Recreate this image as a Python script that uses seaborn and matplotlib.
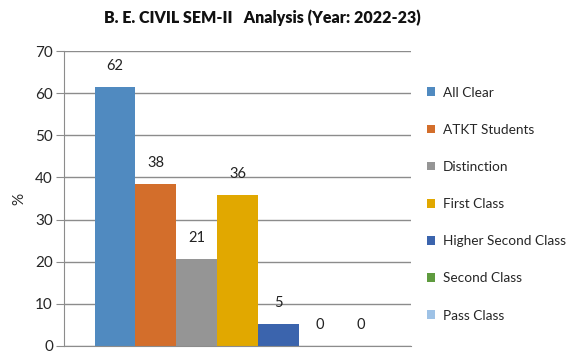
import pandas as pd
import matplotlib
matplotlib.use('Agg')
import matplotlib.pyplot as plt
import seaborn as sns

# Datos
categoria = ['SEM-II']
series = ['All Clear', 'ATKT Students', 'Distinction', 'First Class',
          'Higher Second Class', 'Second Class', 'Pass Class']
valores = [61.6, 38.4, 20.6, 35.9, 5.3, 0, 0]
colores = ['#508AC0', '#D36E2B', '#959595', '#E1A800',
           '#3B64AD', '#5F9B3F', '#9EC2E6']

df = pd.DataFrame({'cat': categoria * len(series), 'serie': series, 'valor': valores})

sns.set_style('white')
plt.rcParams['font.family'] = ['Lato', 'DejaVu Sans']

fig = plt.figure(figsize=(5.72, 3.6), dpi=100)
ax = fig.add_axes([0.112, 0.039, 0.607, 0.819])

sns.barplot(data=df, x='cat', y='valor', hue='serie', hue_order=series,
            palette=colores, width=0.824, gap=0, saturation=1, linewidth=0,
            ax=ax, legend=True)

for cont in ax.containers:
    ax.bar_label(cont, fmt='{:.0f}', padding=10, fontsize=10.5, color='#222222')

ax.set_xlim(-0.5, 0.5)
ax.set_ylim(0, 70)
ax.set_yticks(range(0, 71, 10))
ax.yaxis.grid(True, color='#8c8c8c', linewidth=1)
ax.set_axisbelow(True)
ax.set_xticks([])
ax.set_xlabel('')
ax.set_ylabel('%', fontsize=11, labelpad=6)
ax.tick_params(axis='y', left=True, length=6, color='#8c8c8c', labelsize=11, pad=2)
for s in ['top', 'right']:
    ax.spines[s].set_visible(False)
for s in ['left', 'bottom']:
    ax.spines[s].set_color('#8c8c8c')

ax.legend(loc='upper left', bbox_to_anchor=(1.045, 0.88), frameon=False,
          fontsize=9.8, labelspacing=1.85, handlelength=0.6, handleheight=0.6,
          handletextpad=0.55, borderpad=0, borderaxespad=0)

fig.suptitle('B. E. CIVIL SEM-II   Analysis (Year: 2022-23)', x=0.458, y=0.975,
             fontsize=11.5, fontweight='heavy', color='#111111')

fig.savefig('out.png', dpi=100)
